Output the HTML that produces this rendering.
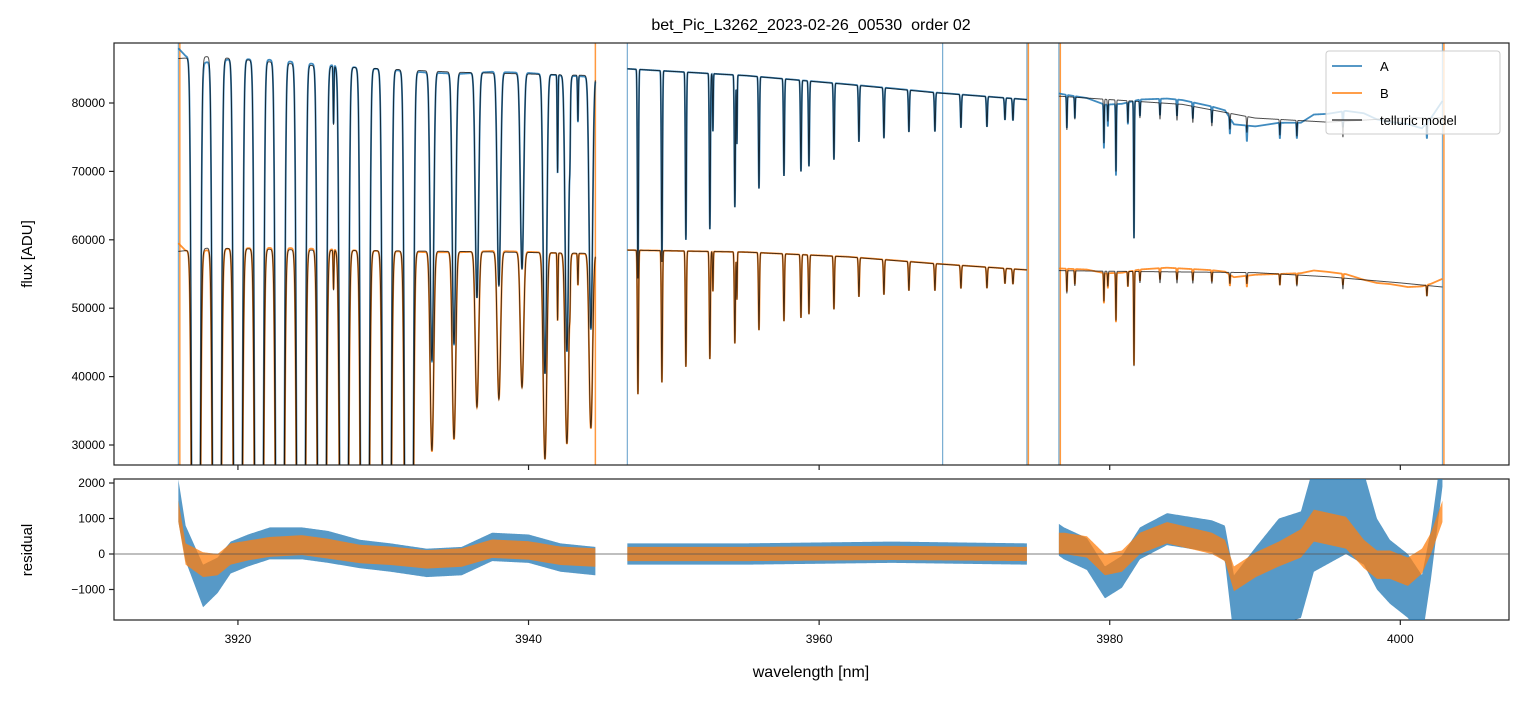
<!DOCTYPE html>
<html><head><meta charset="utf-8"><style>
body{margin:0;background:#fff;}
svg text{font-family:"Liberation Sans","DejaVu Sans",sans-serif;fill:#000;}
</style></head><body>
<svg id="chart" width="1523" height="696" viewBox="0 0 1523 696" xmlns="http://www.w3.org/2000/svg">
<text x="811" y="30" font-size="16" text-anchor="middle" style="white-space:pre">bet_Pic_L3262_2023-02-26_00530  order 02</text>
<clipPath id="ct"><rect x="114" y="43" width="1395" height="422"/></clipPath>
<clipPath id="cb"><rect x="114" y="479" width="1395" height="141"/></clipPath>
<g id="topPanel"></g>
<g id="botPanel"></g>
<text transform="translate(32,254) rotate(-90)" font-size="15" text-anchor="middle">flux [ADU]</text>
<text transform="translate(32,550) rotate(-90)" font-size="15" text-anchor="middle">residual</text>
<text x="811" y="677" font-size="16" text-anchor="middle">wavelength [nm]</text>
<g>
<rect x="1326" y="51" width="174" height="83" rx="3" fill="#fff" fill-opacity="0.8" stroke="#ccc"/>
<line x1="1332" y1="66" x2="1362" y2="66" stroke="#1f77b4" stroke-width="1.5"/>
<text x="1380" y="71" font-size="13">A</text>
<line x1="1332" y1="93" x2="1362" y2="93" stroke="#ff7f0e" stroke-width="1.5"/>
<text x="1380" y="98" font-size="13">B</text>
<line x1="1332" y1="120" x2="1362" y2="120" stroke="#444" stroke-width="1.5"/>
<text x="1380" y="125" font-size="13">telluric model</text>
</g>
</svg>
<script>
const xTicks=[3920,3940,3960,3980,4000];
const yTicksTop=[30000,40000,50000,60000,70000,80000];
const yTicksRes=[-1000,0,1000,2000];
const segments=[[3915.9,3944.6],[3946.8,3974.3],[3976.5,4002.9]];
const lineNm=[3917.11,3918.55,3920.00,3921.45,3922.89,3924.34,3925.78,3927.30,3928.74,3930.25,3931.77,3933.35,3934.87,3936.45,3937.96,3939.55,3941.13,3942.64,3944.29,
3926.58,3928.43,3930.0,3942.85,3943.4,3942.0,
3947.53,3949.18,3950.83,3952.48,3954.20,3955.86,3957.58,3958.75,3959.30,3961.02,3962.74,3964.46,3966.18,3967.97,3969.76,3971.55,3972.79,3973.34,3952.69,3954.34,
3977.05,3977.60,3979.60,3980.43,3981.67,3979.87,3981.25,3982.08,3983.46,3984.63,3985.72,3987.03,3988.27,3989.44,3991.71,3992.88,3996.05,4001.83];
const lineDepth=[0.99999,0.99999,0.99999,0.99999,0.99999,0.99999,0.99999,0.99999,0.99999,0.99999,0.99999,0.5,0.47,0.39,0.37,0.34,0.52,0.48,0.44,
0.10,0.13,0.17,0.08,0.08,0.17,
0.36,0.33,0.29,0.27,0.23,0.195,0.17,0.16,0.15,0.135,0.10,0.09,0.075,0.07,0.06,0.055,0.04,0.04,0.10,0.12,
0.06,0.04,0.08,0.13,0.25,0.04,0.04,0.03,0.03,0.03,0.03,0.03,0.03,0.03,0.03,0.03,0.03,0.03];
const lineWidth=[0.2,0.2,0.2,0.2,0.2,0.2,0.2,0.2,0.2,0.2,0.2,0.15,0.15,0.15,0.15,0.15,0.15,0.15,0.15,
0.04,0.04,0.04,0.04,0.04,0.04,
0.05,0.05,0.05,0.05,0.05,0.05,0.05,0.05,0.05,0.05,0.05,0.05,0.05,0.05,0.05,0.05,0.05,0.05,0.035,0.035,
0.035,0.035,0.035,0.035,0.035,0.035,0.035,0.035,0.035,0.035,0.035,0.035,0.035,0.035,0.035,0.035,0.035,0.035];
const contNm=[3915.9,3918,3925,3935,3944.6,3946.8,3955,3962,3968,3974.3,3976.5,3980,3985,3990,3995,4000,4002.9];
const contA=[86500,86800,85500,84500,84000,85000,84000,82700,81500,80500,81000,80500,79800,77800,77200,77800,77800];
const contB=[58300,58800,58500,58300,58000,58500,58200,57500,56500,55600,55500,55400,55300,55200,54600,53700,53100];
const resNm=[3915.9,3916.4,3917.6,3918.6,3919.5,3920.7,3922.2,3924.4,3926.2,3928.4,3930.5,3933.0,3935.4,3937.5,3940.0,3942.2,3944.6,3946.8,3955,3965,3974.3,
3976.5,3976.85,3978.43,3979.67,3980.84,3982.08,3983.94,3987.03,3987.93,3988.55,3990.06,3991.64,3993.16,3994.05,3996.26,3997.49,3998.39,3999.28,4000.52,4001.49,4002.11,4002.9];
const resA=[1500,300,-900,-600,-100,100,300,300,200,0,-100,-250,-200,200,150,-100,-200,0,0,50,0,
400,300,0,-800,-500,300,700,500,300,-1500,-1200,-500,-300,1000,1500,1000,0,-500,-900,-1500,0,2500];
const resB=[1200,0,-300,-300,0,100,200,250,150,0,-50,-150,-100,150,100,-50,-100,0,0,30,0,
300,300,200,-300,-200,300,600,300,100,-700,-300,0,300,800,600,0,-300,-300,-500,-200,300,1200];
const sprA=[600,500,600,500,450,450,450,450,450,400,400,400,400,400,400,400,400,300,300,300,300,
450,450,450,450,450,450,450,450,500,900,1400,1500,1500,1500,1500,1300,1000,900,900,900,700,600];
const sprB=[300,300,350,300,300,280,280,280,280,260,260,260,260,260,260,260,260,200,200,200,200,
300,300,300,300,300,300,300,300,300,350,350,350,400,450,450,400,400,400,400,350,300,300];
const spikesA=[3915.9,3946.8,3968.5,3974.3,3976.5,4002.9];
const spikesB=[3916.0,3944.6,3974.4,3976.6,4003.0];

const X0=114,X1=1509,NM0=3911.47,NM1=4007.48;
function xs(n){return X0+(n-NM0)/(NM1-NM0)*(X1-X0);}
function yt(v){return 103+(80000-v)*342/50000;}
function yr(v){return 554-v*0.0355;}
function interp(xa,ya,x){if(x<=xa[0])return ya[0];for(let i=1;i<xa.length;i++){if(x<=xa[i]){const t=(x-xa[i-1])/(xa[i]-xa[i-1]);return ya[i-1]+t*(ya[i]-ya[i-1]);}}return ya[ya.length-1];}
function trans(n){let tau=0;for(let i=0;i<lineNm.length;i++){const d=lineDepth[i];const w=lineWidth[i];const dx=(n-lineNm[i])/w;if(Math.abs(dx)>5)continue;tau+=-Math.log(1-d)*Math.exp(-dx*dx);}return Math.exp(-tau);}
const NS='http://www.w3.org/2000/svg';
function mk(tag,attrs,parent){const e=document.createElementNS(NS,tag);for(const k in attrs)e.setAttribute(k,attrs[k]);parent.appendChild(e);return e;}
const topG=document.getElementById('topPanel'),botG=document.getElementById('botPanel');
const gt=mk('g',{'clip-path':'url(#ct)'},topG);
const gb=mk('g',{'clip-path':'url(#cb)'},botG);
const step=0.01;
const segData=segments.map(s=>{const pts=[];for(let n=s[0];n<=s[1]+1e-9;n+=step){const T=trans(n);const mA=interp(contNm,contA,n)*T,mB=interp(contNm,contB,n)*T;pts.push({n,mA,mB,rA:interp(resNm,resA,n),rB:interp(resNm,resB,n),sA:interp(resNm,sprA,n),sB:interp(resNm,sprB,n)});}return pts;});
function pl(pts,fy){return pts.map(p=>xs(p.n).toFixed(2)+','+Math.min(2000,Math.max(-2000,fy(p))).toFixed(2)).join(' ');}
spikesA.forEach(n=>{const e=mk('line',{x1:xs(n),x2:xs(n),y1:43,y2:465,stroke:'#1f77b4','stroke-opacity':0.6,'stroke-width':1.2},gt);

});
spikesB.forEach(n=>{const e=mk('line',{x1:xs(n),x2:xs(n),y1:43,y2:465,stroke:'#ff7f0e','stroke-opacity':0.8,'stroke-width':1.5},gt);

});
segData.forEach(pts=>{
 const a=mk('polyline',{points:pl(pts,p=>yt(p.mA+p.rA)),fill:'none',stroke:'#1f77b4','stroke-opacity':0.85,'stroke-width':1.8},gt);
 
 
 const b=mk('polyline',{points:pl(pts,p=>yt(p.mB+p.rB)),fill:'none',stroke:'#ff7f0e','stroke-opacity':0.85,'stroke-width':1.8},gt);
 
 
});
segData.forEach(pts=>{
 const a=mk('polyline',{points:pl(pts,p=>yt(p.mA)),fill:'none',stroke:'#000','stroke-opacity':0.7,'stroke-width':1},gt);
 
 
 const b=mk('polyline',{points:pl(pts,p=>yt(p.mB)),fill:'none',stroke:'#000','stroke-opacity':0.7,'stroke-width':1},gt);
 
 
});
function band(pts,c,s){const up=pts.map(p=>xs(p.n).toFixed(2)+','+yr(p[c]+p[s]).toFixed(2));const lo=pts.slice().reverse().map(p=>xs(p.n).toFixed(2)+','+yr(p[c]-p[s]).toFixed(2));return up.concat(lo).join(' ');}
segData.forEach(pts=>{
 const p2=pts.filter((p,i)=>i%5==0);
 const a=mk('polygon',{points:band(p2,'rA','sA'),fill:'#1f77b4','fill-opacity':0.75},gb);
 
 
});
segData.forEach(pts=>{
 const p2=pts.filter((p,i)=>i%5==0);
 const b=mk('polygon',{points:band(p2,'rB','sB'),fill:'#ff7f0e','fill-opacity':0.75},gb);
 
 
});
const z=mk('line',{x1:114,x2:1509,y1:yr(0),y2:yr(0),stroke:'#555','stroke-width':0.8},botG);


[[43,465],[479,620]].forEach(r=>{const f=mk('rect',{x:114,y:r[0],width:1395,height:r[1]-r[0],fill:'none',stroke:'#222','stroke-width':1.2},topG);

});
xTicks.forEach(t=>{const x=xs(t);
 mk('line',{x1:x,x2:x,y1:465,y2:470,stroke:'#222','stroke-width':1.2},topG);
 mk('line',{x1:x,x2:x,y1:620,y2:625,stroke:'#222','stroke-width':1.2},botG);
 const e=mk('text',{x:x,y:643,'font-size':12,'text-anchor':'middle'},botG);e.textContent=t;
 
 });
yTicksTop.forEach(t=>{const y=yt(t);
 mk('line',{x1:109,x2:114,y1:y,y2:y,stroke:'#222','stroke-width':1.2},topG);
 const e=mk('text',{x:105,y:y+4,'font-size':12,'text-anchor':'end'},topG);e.textContent=t;
 
 });
yTicksRes.forEach(t=>{const y=yr(t);
 mk('line',{x1:109,x2:114,y1:y,y2:y,stroke:'#222','stroke-width':1.2},botG);
 const e=mk('text',{x:105,y:y+4,'font-size':12,'text-anchor':'end'},botG);e.textContent=(t<0?'\u2212'+(-t):t);
 
 });
</script>
</body></html>
